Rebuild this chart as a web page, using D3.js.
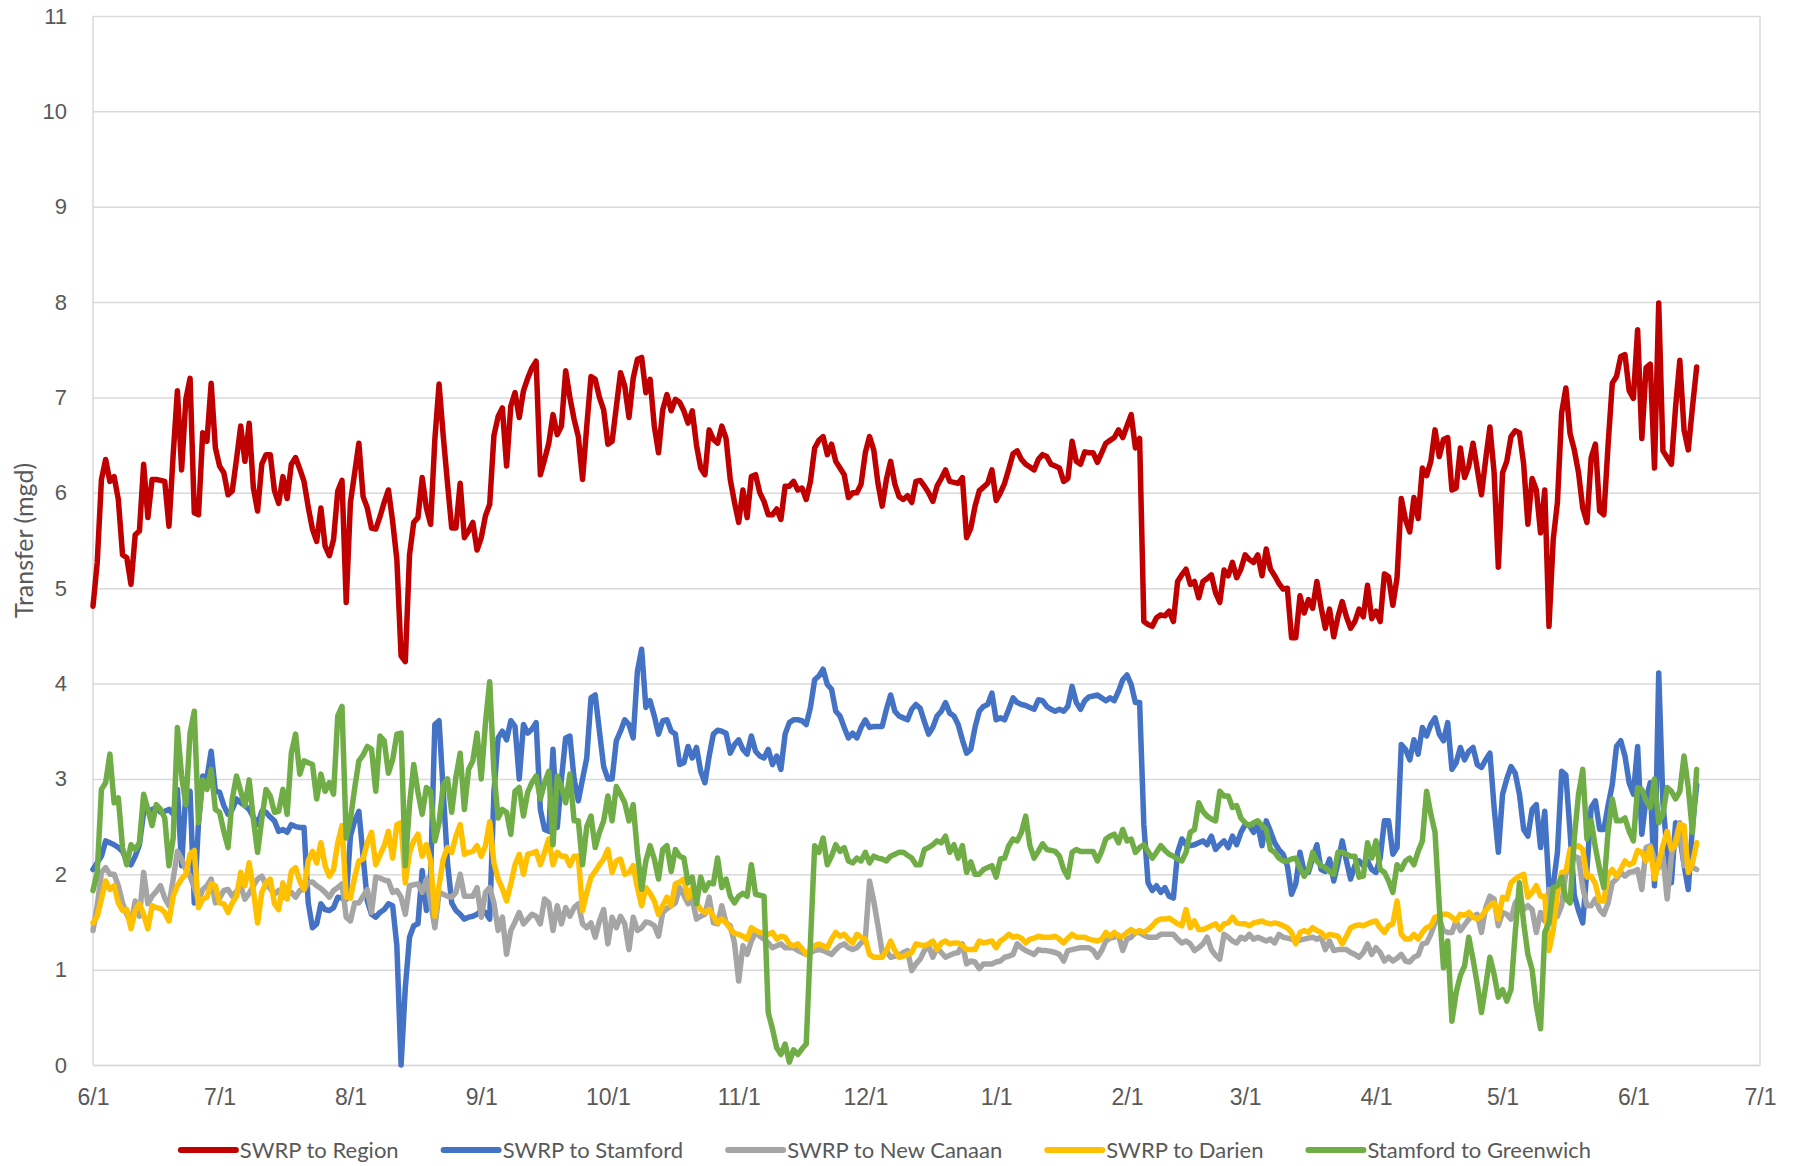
<!DOCTYPE html>
<html>
<head>
<meta charset="utf-8">
<script src="https://cdn.jsdelivr.net/npm/d3@7"></script>
<style>
  body { margin: 0; background: #fff; }
  svg { display: block; font-family: Lato, "Liberation Sans", Arial, sans-serif; }
</style>
</head>
<body>
<svg id="chart"></svg>
<script>
// chart size and plot box
const svgWidth = 1797;
const svgHeight = 1166;
const plot = { left: 93, right: 1760, top: 16, bottom: 1065 };

// daily series start 6/1, axis runs to 7/1 of the next year
const startDate = new Date(2018, 5, 1);
const endDate = new Date(2019, 6, 1);

const yTickValues = [0, 1, 2, 3, 4, 5, 6, 7, 8, 9, 10, 11];
const yTitle = "Transfer (mgd)";

const seriesNames = ["SWRP to Region", "SWRP to Stamford", "SWRP to New Canaan", "SWRP to Darien", "Stamford to Greenwich"];
const seriesColors = ["#C00000", "#4472C4", "#A5A5A5", "#FFC000", "#70AD47"];

// daily values (mgd), one per day from 6/1
const swrpToRegion = [
  4.81,5.27,6.14,6.35,6.12,6.17,5.93,5.35,5.32,5.04,
  5.56,5.60,6.30,5.74,6.14,6.14,6.13,6.12,5.65,6.40,
  7.07,6.24,6.98,7.20,5.79,5.77,6.63,6.54,7.15,6.47,
  6.28,6.21,5.98,6.02,6.35,6.70,6.33,6.73,6.05,5.81,
  6.30,6.40,6.40,6.02,5.89,6.17,5.94,6.30,6.37,6.25,
  6.12,5.85,5.62,5.49,5.84,5.44,5.34,5.51,6.02,6.13,
  4.85,5.90,6.21,6.52,5.96,5.84,5.63,5.62,5.75,5.90,
  6.03,5.70,5.30,4.29,4.23,5.35,5.69,5.74,6.16,5.84,
  5.67,6.56,7.14,6.59,6.10,5.63,5.63,6.10,5.53,5.60,
  5.69,5.40,5.53,5.76,5.88,6.60,6.80,6.89,6.28,6.91,
  7.05,6.79,7.07,7.20,7.31,7.38,6.19,6.35,6.52,6.82,
  6.61,6.70,7.28,7.00,6.77,6.59,6.14,6.70,7.22,7.19,
  7.00,6.87,6.51,6.54,6.90,7.26,7.12,6.79,7.20,7.40,
  7.42,7.05,7.19,6.70,6.42,6.87,7.03,6.86,6.98,6.95,
  6.86,6.73,6.86,6.50,6.26,6.19,6.66,6.56,6.52,6.70,
  6.57,6.14,5.90,5.69,6.03,5.74,6.17,6.19,6.00,5.91,
  5.77,5.77,5.83,5.72,6.07,6.07,6.12,6.03,6.05,5.93,
  6.12,6.47,6.55,6.59,6.40,6.51,6.33,6.26,6.19,5.95,
  6.00,6.00,6.09,6.42,6.59,6.45,6.10,5.86,6.14,6.33,
  6.09,5.96,5.93,5.97,5.90,6.12,6.13,6.07,6.00,5.91,
  6.07,6.15,6.24,6.12,6.11,6.10,6.16,5.53,5.63,5.86,
  6.02,6.06,6.10,6.24,5.92,6.00,6.10,6.25,6.41,6.44,
  6.35,6.30,6.27,6.24,6.35,6.40,6.38,6.30,6.28,6.26,
  6.12,6.15,6.54,6.33,6.30,6.43,6.42,6.42,6.32,6.42,
  6.52,6.55,6.58,6.66,6.58,6.70,6.82,6.47,6.57,4.65,
  4.62,4.60,4.69,4.72,4.71,4.76,4.65,5.07,5.14,5.20,
  5.04,5.07,4.90,5.07,5.10,5.14,4.95,4.85,5.19,5.13,
  5.27,5.11,5.20,5.35,5.30,5.27,5.35,5.13,5.41,5.20,
  5.13,5.05,4.99,5.00,4.48,4.48,4.92,4.74,4.88,4.79,
  5.07,4.80,4.58,4.78,4.49,4.70,4.86,4.70,4.58,4.65,
  4.78,4.70,5.03,4.68,4.76,4.65,5.15,5.12,4.82,5.11,
  5.94,5.72,5.59,5.95,5.73,6.26,6.18,6.33,6.66,6.38,
  6.56,6.58,6.03,6.05,6.47,6.16,6.28,6.52,6.25,5.98,
  6.35,6.69,6.21,5.22,6.21,6.33,6.59,6.65,6.63,6.30,
  5.67,6.15,6.03,5.58,6.03,4.60,5.51,5.90,6.84,7.10,
  6.62,6.45,6.21,5.84,5.69,6.37,6.51,5.81,5.77,6.50,
  7.15,7.22,7.43,7.45,7.07,6.99,7.71,6.57,7.31,7.35,
  6.26,7.99,6.44,6.37,6.30,6.90,7.39,6.66,6.45,6.90,7.32
];

const swrpToStamford = [
  2.05,2.12,2.19,2.35,2.33,2.31,2.28,2.24,2.14,2.10,
  2.19,2.31,2.65,2.66,2.68,2.70,2.65,2.66,2.68,2.63,
  2.89,2.09,2.86,2.87,1.70,2.54,3.03,3.01,3.29,2.87,
  2.86,2.72,2.63,2.68,2.79,2.75,2.72,2.68,2.60,2.52,
  2.66,2.65,2.60,2.56,2.45,2.47,2.44,2.52,2.50,2.49,
  2.49,1.70,1.44,1.48,1.69,1.63,1.62,1.65,1.76,1.75,
  1.74,2.40,2.56,2.66,2.19,1.72,1.58,1.55,1.60,1.63,
  1.69,1.67,1.25,0.00,0.81,1.34,1.46,1.48,2.04,1.62,
  2.00,3.57,3.61,2.86,2.12,1.70,1.62,1.58,1.53,1.55,
  1.56,1.58,1.62,1.60,1.53,2.86,3.43,3.50,3.41,3.61,
  3.55,3.00,3.57,3.48,3.52,3.59,2.68,2.47,2.45,3.31,
  2.49,3.00,3.43,3.45,3.00,2.77,3.00,3.22,3.85,3.88,
  3.50,3.13,3.00,3.00,3.40,3.50,3.62,3.57,3.43,4.13,
  4.36,3.75,3.82,3.66,3.47,3.61,3.62,3.50,3.47,3.15,
  3.17,3.34,3.22,3.33,3.08,2.96,3.24,3.47,3.51,3.50,
  3.48,3.27,3.36,3.41,3.31,3.26,3.45,3.29,3.24,3.22,
  3.31,3.15,3.24,3.10,3.47,3.59,3.62,3.62,3.61,3.57,
  3.75,4.04,4.08,4.15,3.99,3.94,3.71,3.66,3.54,3.43,
  3.48,3.43,3.54,3.62,3.54,3.55,3.55,3.55,3.73,3.88,
  3.71,3.66,3.64,3.62,3.73,3.78,3.74,3.60,3.47,3.54,
  3.66,3.71,3.80,3.69,3.66,3.57,3.41,3.27,3.31,3.54,
  3.71,3.76,3.78,3.90,3.62,3.64,3.62,3.73,3.85,3.80,
  3.78,3.77,3.75,3.73,3.83,3.82,3.76,3.73,3.71,3.73,
  3.71,3.76,3.97,3.80,3.73,3.82,3.86,3.87,3.88,3.85,
  3.82,3.85,3.82,3.92,4.04,4.09,3.99,3.80,3.80,2.52,
  1.91,1.83,1.88,1.81,1.86,1.77,1.75,2.23,2.37,2.31,
  2.30,2.31,2.33,2.35,2.31,2.40,2.26,2.31,2.35,2.28,
  2.40,2.31,2.44,2.52,2.51,2.44,2.52,2.30,2.56,2.45,
  2.33,2.26,2.21,2.09,1.79,1.90,2.23,2.02,2.02,2.17,
  2.31,2.05,2.03,2.16,1.93,2.12,2.35,2.14,1.95,2.09,
  2.14,2.09,2.14,2.05,2.02,2.17,2.56,2.56,2.21,2.28,
  3.36,3.31,3.20,3.41,3.26,3.54,3.45,3.57,3.64,3.47,
  3.40,3.59,3.10,3.17,3.33,3.20,3.29,3.33,3.15,3.12,
  3.20,3.27,2.70,2.23,2.84,3.00,3.13,3.06,2.84,2.47,
  2.40,2.68,2.73,2.28,2.66,1.85,1.88,2.23,3.08,3.04,
  2.44,1.78,1.62,1.49,2.05,2.70,2.77,2.47,2.47,2.72,
  2.94,3.34,3.40,3.24,2.96,2.84,3.34,2.42,2.79,2.96,
  1.88,4.11,2.75,2.23,1.91,2.54,2.40,2.10,1.84,2.51,2.94
];

const swrpToNewCanaan = [
  1.41,1.67,2.02,2.07,2.00,2.00,1.88,1.70,1.58,1.49,
  1.72,1.56,2.02,1.69,1.77,1.82,1.88,1.75,1.67,1.95,
  2.24,2.16,2.05,1.98,1.86,1.72,1.84,1.88,1.95,1.70,
  1.75,1.83,1.84,1.77,1.82,1.88,1.74,1.80,1.88,1.95,
  1.98,1.89,1.85,1.79,1.83,1.76,1.79,1.81,1.76,1.83,
  1.84,1.91,1.92,1.88,1.85,1.81,1.76,1.83,1.86,1.90,
  1.55,1.51,1.70,1.70,1.77,1.84,1.60,1.97,1.96,1.94,
  1.93,1.81,1.83,1.76,1.58,1.88,1.89,1.90,1.81,1.95,
  1.70,1.44,1.81,1.79,1.77,1.76,1.81,2.00,1.77,1.77,
  1.77,1.86,1.55,1.81,1.86,1.70,1.41,1.55,1.16,1.41,
  1.50,1.60,1.48,1.53,1.58,1.56,1.48,1.74,1.70,1.41,
  1.67,1.48,1.65,1.56,1.65,1.69,1.48,1.44,1.49,1.34,
  1.51,1.63,1.27,1.55,1.44,1.56,1.48,1.21,1.55,1.41,
  1.44,1.50,1.49,1.46,1.35,1.60,1.64,1.67,1.70,1.86,
  1.78,1.69,1.74,1.53,1.56,1.58,1.76,1.49,1.48,1.67,
  1.49,1.46,1.28,0.88,1.25,1.16,1.30,1.39,1.35,1.32,
  1.28,1.23,1.25,1.27,1.23,1.23,1.23,1.20,1.18,1.16,
  1.18,1.20,1.21,1.20,1.18,1.16,1.21,1.25,1.27,1.23,
  1.21,1.23,1.28,1.32,1.93,1.72,1.46,1.18,1.20,1.13,
  1.14,1.15,1.18,1.20,0.99,1.06,1.11,1.20,1.25,1.13,
  1.23,1.18,1.13,1.15,1.17,1.18,1.27,1.06,1.09,1.08,
  1.01,1.06,1.06,1.06,1.08,1.09,1.13,1.14,1.16,1.27,
  1.23,1.20,1.18,1.16,1.21,1.20,1.20,1.19,1.18,1.16,
  1.09,1.20,1.21,1.22,1.23,1.23,1.23,1.20,1.13,1.20,
  1.30,1.33,1.34,1.36,1.20,1.32,1.34,1.39,1.39,1.36,
  1.34,1.34,1.34,1.37,1.37,1.37,1.37,1.32,1.28,1.30,
  1.27,1.20,1.23,1.27,1.34,1.21,1.15,1.11,1.37,1.34,
  1.30,1.28,1.34,1.32,1.37,1.32,1.34,1.32,1.30,1.32,
  1.28,1.37,1.34,1.33,1.32,1.30,1.31,1.32,1.33,1.34,
  1.32,1.34,1.21,1.30,1.20,1.21,1.21,1.21,1.18,1.16,
  1.13,1.18,1.27,1.16,1.23,1.18,1.09,1.13,1.09,1.12,
  1.16,1.09,1.08,1.13,1.15,1.27,1.28,1.37,1.49,1.53,
  1.41,1.39,1.39,1.51,1.41,1.47,1.53,1.56,1.58,1.39,
  1.65,1.77,1.74,1.46,1.60,1.58,1.53,1.70,1.76,1.63,
  1.67,1.63,1.39,1.60,1.51,1.84,1.83,1.56,1.67,2.02,
  2.05,2.19,2.17,1.86,1.67,1.67,1.74,1.63,1.58,1.70,
  1.91,1.95,2.02,1.98,2.02,2.03,2.05,1.84,2.28,2.30,
  2.16,2.07,2.19,1.74,2.19,2.37,2.54,2.09,2.09,2.07,2.05
];

const swrpToDarien = [
  1.49,1.56,1.74,1.93,1.84,1.88,1.70,1.62,1.63,1.43,
  1.62,1.69,1.58,1.43,1.67,1.65,1.64,1.60,1.51,1.77,
  1.88,1.95,2.00,2.21,2.25,1.65,1.74,1.76,1.90,1.88,
  1.70,1.69,1.60,1.70,1.77,2.02,1.88,2.12,1.83,1.49,
  1.81,1.91,1.95,1.69,1.63,1.91,1.74,2.03,2.07,1.93,
  1.84,2.14,2.24,2.12,2.33,2.09,1.98,2.05,2.33,2.51,
  1.76,1.75,1.97,2.14,2.16,2.33,2.44,2.10,2.20,2.30,
  2.45,2.17,2.52,2.54,1.91,2.23,2.35,2.42,2.19,2.31,
  2.14,1.56,1.88,2.16,2.28,2.23,2.40,2.52,2.21,2.23,
  2.24,2.30,2.19,2.30,2.55,2.12,1.95,1.85,1.72,1.90,
  2.10,2.21,2.00,2.21,2.22,2.24,2.10,2.23,2.37,2.10,
  2.23,2.19,2.19,2.09,2.19,2.19,1.62,1.81,1.97,2.03,
  2.10,2.16,2.26,2.02,2.14,2.16,2.00,2.02,2.09,1.86,
  1.67,1.86,1.80,1.72,1.58,1.67,1.76,1.67,1.90,1.92,
  1.95,1.75,1.86,1.70,1.63,1.60,1.63,1.56,1.49,1.53,
  1.49,1.43,1.38,1.37,1.35,1.32,1.44,1.41,1.39,1.38,
  1.37,1.39,1.32,1.35,1.34,1.27,1.25,1.27,1.22,1.16,
  1.21,1.25,1.27,1.25,1.23,1.32,1.39,1.35,1.37,1.32,
  1.28,1.37,1.34,1.32,1.16,1.13,1.13,1.13,1.20,1.30,
  1.20,1.13,1.14,1.16,1.18,1.27,1.26,1.25,1.27,1.30,
  1.21,1.28,1.30,1.27,1.28,1.28,1.25,1.21,1.21,1.21,
  1.30,1.28,1.29,1.30,1.23,1.30,1.33,1.37,1.34,1.35,
  1.33,1.28,1.32,1.33,1.35,1.34,1.34,1.34,1.35,1.32,
  1.28,1.33,1.37,1.34,1.34,1.34,1.32,1.31,1.30,1.32,
  1.39,1.35,1.39,1.35,1.35,1.39,1.42,1.39,1.41,1.39,
  1.42,1.46,1.51,1.53,1.53,1.54,1.51,1.48,1.46,1.63,
  1.44,1.51,1.42,1.42,1.44,1.46,1.48,1.42,1.48,1.49,
  1.55,1.49,1.48,1.48,1.46,1.49,1.50,1.51,1.49,1.48,
  1.49,1.48,1.46,1.44,1.39,1.27,1.39,1.41,1.39,1.44,
  1.41,1.39,1.34,1.37,1.36,1.35,1.27,1.35,1.44,1.46,
  1.47,1.46,1.48,1.50,1.51,1.44,1.39,1.46,1.48,1.72,
  1.37,1.32,1.32,1.37,1.32,1.39,1.44,1.46,1.55,1.56,
  1.58,1.58,1.55,1.51,1.58,1.57,1.60,1.55,1.53,1.56,
  1.62,1.67,1.70,1.53,1.76,1.74,1.91,1.95,1.98,2.00,
  1.76,1.81,1.88,1.77,1.77,1.20,1.42,1.81,2.02,2.03,
  2.26,2.28,2.30,2.26,1.97,1.98,1.90,1.72,1.72,2.00,
  2.05,1.98,2.05,2.14,2.10,2.12,2.25,2.23,2.14,2.28,
  1.95,2.12,2.30,2.45,2.26,2.31,2.52,2.51,2.02,2.12,2.33
];

const stamfordToGreenwich = [
  1.83,2.02,2.89,2.96,3.26,2.75,2.80,2.28,2.10,2.31,
  2.26,2.33,2.84,2.68,2.51,2.73,2.68,2.59,2.09,2.38,
  3.54,3.03,2.73,3.48,3.71,2.54,2.99,2.89,3.10,2.68,
  2.65,2.45,2.28,2.79,3.03,2.87,2.72,2.99,2.58,2.23,
  2.58,2.89,2.82,2.65,2.66,2.89,2.63,3.27,3.47,3.05,
  3.19,3.17,3.15,2.79,3.05,2.87,2.96,2.84,3.66,3.76,
  2.38,2.58,2.90,3.19,3.25,3.34,3.31,2.87,3.45,3.40,
  3.06,3.20,3.47,3.48,2.09,2.73,3.15,2.86,2.63,2.91,
  2.87,2.35,2.54,2.94,3.00,2.65,3.02,3.27,2.68,3.10,
  3.19,3.48,3.00,3.59,4.02,3.07,2.59,2.68,2.65,2.42,
  2.87,2.91,2.61,2.86,2.96,3.03,2.79,2.96,3.08,2.31,
  3.03,2.92,2.75,3.05,2.56,2.56,2.10,2.50,2.61,2.28,
  2.44,2.56,2.82,2.56,2.92,2.84,2.75,2.56,2.73,2.23,
  1.84,2.14,2.30,2.16,1.95,2.26,2.30,2.03,2.26,2.19,
  2.17,1.91,1.97,1.69,1.97,1.83,1.91,1.90,2.17,1.86,
  1.95,1.77,1.70,1.77,1.80,1.77,2.10,1.79,1.78,1.77,
  0.55,0.38,0.18,0.11,0.22,0.03,0.16,0.11,0.17,0.22,
  1.28,2.30,2.23,2.38,2.10,2.19,2.31,2.24,2.28,2.14,
  2.12,2.17,2.14,2.23,2.12,2.19,2.17,2.16,2.14,2.19,
  2.21,2.23,2.23,2.20,2.17,2.10,2.10,2.26,2.28,2.31,
  2.35,2.33,2.40,2.23,2.31,2.17,2.30,2.02,2.13,2.00,
  2.00,2.05,2.07,2.09,1.97,2.16,2.17,2.30,2.37,2.35,
  2.44,2.61,2.30,2.17,2.24,2.32,2.26,2.25,2.24,2.19,
  2.05,1.97,2.23,2.26,2.24,2.24,2.24,2.24,2.14,2.24,
  2.37,2.40,2.42,2.33,2.47,2.35,2.37,2.23,2.28,2.31,
  2.24,2.17,2.23,2.30,2.25,2.21,2.19,2.16,2.14,2.23,
  2.44,2.47,2.75,2.66,2.61,2.58,2.56,2.87,2.82,2.82,
  2.70,2.72,2.59,2.54,2.51,2.54,2.56,2.51,2.47,2.26,
  2.23,2.17,2.14,2.14,2.16,2.17,2.07,1.98,2.05,2.23,
  2.14,2.09,2.07,2.03,2.00,2.23,2.23,2.21,2.19,2.19,
  1.97,1.98,2.33,2.17,2.35,2.05,2.02,1.93,1.81,2.10,
  2.05,2.14,2.17,2.10,2.24,2.35,2.87,2.63,2.44,1.67,
  1.02,1.30,0.46,0.76,0.94,1.04,1.34,1.11,0.85,0.55,
  0.83,1.13,0.95,0.71,0.79,0.67,0.79,1.39,1.91,1.49,
  1.16,1.00,0.62,0.38,1.39,1.49,1.86,1.88,1.97,1.74,
  1.70,2.38,2.84,3.10,2.37,2.56,2.28,2.05,1.86,2.45,
  2.79,2.56,2.56,2.59,2.45,2.35,2.91,2.89,2.77,2.70,
  3.00,2.54,2.63,2.91,2.87,2.79,2.87,3.24,2.91,2.44,3.10
];

// drawing order as in the original: region first, Greenwich on top
const allSeries = [swrpToRegion, swrpToStamford, swrpToNewCanaan, swrpToDarien, stamfordToGreenwich];

const textColor = "#595959";
const gridColor = "#d9d9d9";

const svg = d3.select("#chart")
    .attr("width", svgWidth)
    .attr("height", svgHeight);

// scales
const xScale = d3.scaleTime()
    .domain([startDate, endDate])
    .range([plot.left, plot.right]);

const yScale = d3.scaleLinear()
    .domain([0, 11])
    .range([plot.bottom, plot.top]);

// y axis with horizontal gridlines
const yAxis = svg.append("g")
    .attr("transform", `translate(${plot.left},0)`)
    .call(d3.axisLeft(yScale)
        .tickValues(yTickValues)
        .tickSize(-(plot.right - plot.left))
        .tickPadding(26));
yAxis.select(".domain").remove();
yAxis.selectAll(".tick line")
    .attr("stroke", gridColor)
    .attr("stroke-width", 1.5);
yAxis.selectAll(".tick text")
    .attr("fill", textColor)
    .style("font-size", "22px");

// side borders of the plot
svg.append("g").selectAll("line")
    .data([plot.left, plot.right])
    .enter().append("line")
    .attr("x1", d => d).attr("x2", d => d)
    .attr("y1", yScale(11)).attr("y2", yScale(0))
    .attr("stroke", gridColor)
    .attr("stroke-width", 1.5);

// x axis, one label per month
const xAxis = svg.append("g")
    .attr("transform", `translate(0,${plot.bottom})`)
    .call(d3.axisBottom(xScale)
        .ticks(d3.timeMonth.every(1))
        .tickFormat(d3.timeFormat("%-m/%-d"))
        .tickSize(0)
        .tickPadding(24));
xAxis.select(".domain")
    .attr("stroke", gridColor)
    .attr("stroke-width", 1.5);
xAxis.selectAll(".tick text")
    .attr("fill", textColor)
    .style("font-size", "23px");

// axis title
svg.append("text")
    .attr("transform", `translate(23,${(plot.top + plot.bottom) / 2}) rotate(-90)`)
    .attr("text-anchor", "middle")
    .attr("dominant-baseline", "central")
    .attr("fill", textColor)
    .style("font-size", "25px")
    .text(yTitle);

// lines
const line = d3.line()
    .x((d, i) => xScale(d3.timeDay.offset(startDate, i)))
    .y(d => yScale(d));

svg.append("g").selectAll("path")
    .data(allSeries)
    .enter().append("path")
    .attr("d", line)
    .attr("fill", "none")
    .attr("stroke", (d, i) => seriesColors[i])
    .attr("stroke-width", 5.5)
    .attr("stroke-linejoin", "round")
    .attr("stroke-linecap", "round");

// legend, laid out from text widths and centred under the chart
const legendY = 1150;
const legendGap = 45;
const legend = svg.append("g");
const items = legend.selectAll("g")
    .data(seriesNames)
    .enter().append("g");
items.append("line")
    .attr("x1", 0).attr("x2", 55)
    .attr("y1", 0).attr("y2", 0)
    .attr("stroke", (d, i) => seriesColors[i])
    .attr("stroke-width", 6)
    .attr("stroke-linecap", "round");
items.append("text")
    .attr("x", 59)
    .attr("dy", "0.35em")
    .attr("fill", textColor)
    .style("font-size", "22px")
    .text(d => d);

let cursor = 0;
items.each(function() {
    const w = 59 + this.querySelector("text").getComputedTextLength();
    d3.select(this).attr("transform", `translate(${cursor},${legendY})`);
    cursor += w + legendGap;
});
const legendWidth = cursor - legendGap;
legend.attr("transform", `translate(${886 - legendWidth / 2},0)`);
</script>
</body>
</html>
